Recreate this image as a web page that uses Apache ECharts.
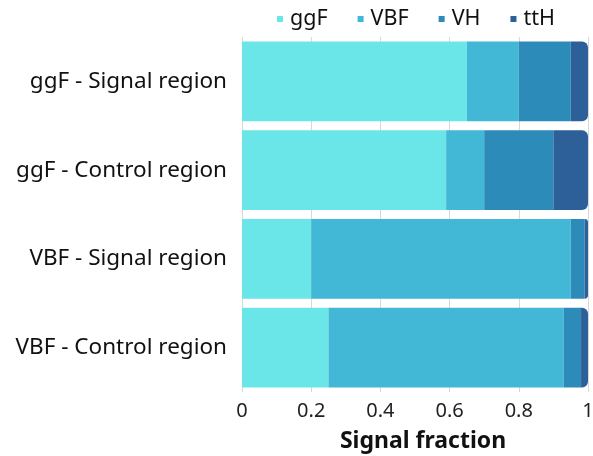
<!DOCTYPE html>
<html><head><meta charset="utf-8">
<script src="https://cdn.jsdelivr.net/npm/echarts@6/dist/echarts.min.js"></script>
<style>html,body{margin:0;padding:0;background:#fff}#c{width:593px;height:456px}</style>
</head><body><div id="c"></div>
<script>
const categories = ["ggF - Signal region", "ggF - Control region", "VBF - Signal region", "VBF - Control region"];
const seriesNames = ["ggF", "VBF", "VH", "ttH"];
const ggF = [0.65, 0.59, 0.20, 0.25];
const VBF = [0.15, 0.11, 0.75, 0.68];
const VH  = [0.15, 0.20, 0.04, 0.05];
const ttH = [0.05, 0.10, 0.01, 0.02];
const colors = ["#6AE6E9", "#42B7D6", "#2C8BB8", "#2D5F98"];
const values = [ggF, VBF, VH, ttH];
const font = "Noto Sans";
const chart = echarts.init(document.getElementById('c'));
chart.setOption({
  animation: false,
  textStyle: {fontFamily: font},
  legend: {
    top: 3, left: 272, itemWidth: 6, itemHeight: 6, itemGap: 30,
    icon: 'rect',
    textStyle: {fontSize: 21.5, color: '#111', fontFamily: font, padding: [0, 0, 0, 2]}
  },
  grid: {left: 242, right: 5, top: 37, bottom: 64, outerBoundsMode: 'none', containLabel: false},
  xAxis: {
    type: 'value', min: 0, max: 1, interval: 0.2,
    name: 'Signal fraction', nameLocation: 'middle', nameGap: 38,
    nameTextStyle: {fontSize: 23, fontWeight: 'bold', color: '#111', fontFamily: font, padding: [0, 0, 0, 16]},
    axisLine: {show: false}, axisTick: {show: false},
    axisLabel: {fontSize: 20, color: '#222', margin: 9, fontFamily: font},
    splitLine: {lineStyle: {color: '#d8d8d8'}}
  },
  yAxis: {
    type: 'category', data: categories, inverse: true,
    axisLine: {show: false}, axisTick: {show: false},
    axisLabel: {fontSize: 22.5, color: '#111', margin: 15, fontFamily: font}
  },
  series: seriesNames.map((n, i) => ({
    name: n, type: 'bar', stack: 'total', data: values[i],
    barCategoryGap: '10%',
    itemStyle: {color: colors[i], borderRadius: i === 3 ? [0, 6, 6, 0] : 0}
  }))
});
</script></body></html>
